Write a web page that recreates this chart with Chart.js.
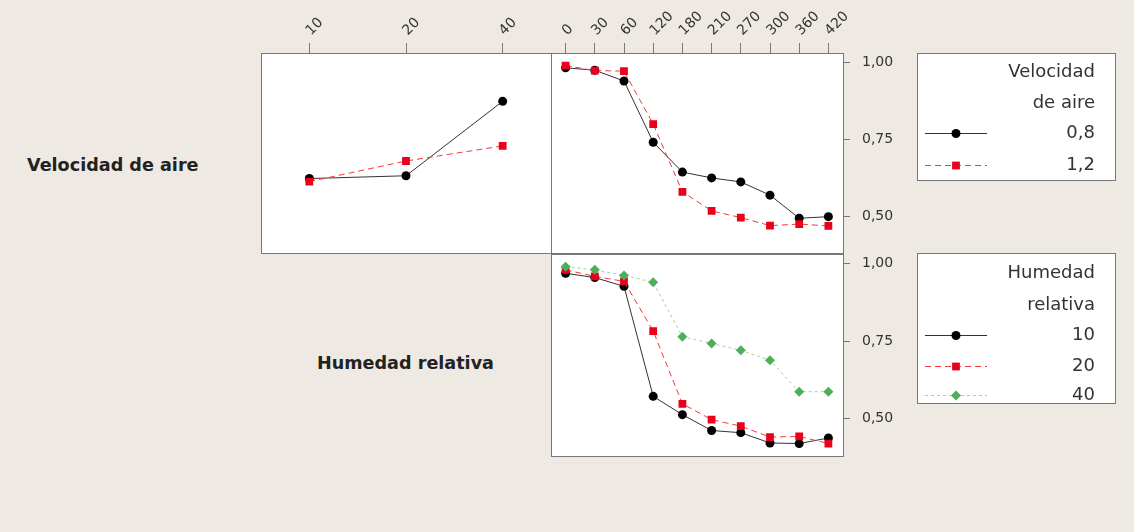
<!DOCTYPE html>
<html>
<head>
<meta charset="utf-8">
<script src="https://cdn.jsdelivr.net/npm/chart.js@4.4.1/dist/chart.umd.min.js"></script>
<style>
  body { margin:0; background:#efe9e3; width:1134px; height:532px; overflow:hidden; position:relative; font-family:'DejaVu Sans', sans-serif; }
  canvas.layer { position:absolute; left:0; top:0; }
  .rowlab { position:absolute; font-weight:bold; font-size:17.6px; color:#222; white-space:nowrap; line-height:20px; }
</style>
</head>
<body>
<div class="rowlab" style="left:27px; top:155px;">Velocidad de aire</div>
<div class="rowlab" style="left:317px; top:353px;">Humedad relativa</div>
<canvas class="layer" id="c1" width="1134" height="532"></canvas>
<canvas class="layer" id="c2" width="1134" height="532"></canvas>
<canvas class="layer" id="c3" width="1134" height="532"></canvas>
<script>
// factor levels
const humLevels = ['10', '20', '40'];
const velLevels = ['0,8', '1,2'];
const timeLabels = ['0', '30', '60', '120', '180', '210', '270', '300', '360', '420'];
const yTicks = [0.5, 0.75, 1.0];

// velocidad de aire vs humedad relativa
const velHum08 = [0.622, 0.631, 0.873];
const velHum12 = [0.612, 0.679, 0.728];

// velocidad de aire vs tiempo
const velTime08 = [0.982, 0.974, 0.939, 0.740, 0.643, 0.624, 0.611, 0.568, 0.493, 0.498];
const velTime12 = [0.989, 0.973, 0.971, 0.799, 0.579, 0.517, 0.495, 0.469, 0.474, 0.468];

// humedad relativa vs tiempo
const humTime10 = [0.968, 0.954, 0.926, 0.572, 0.513, 0.462, 0.455, 0.422, 0.420, 0.438];
const humTime20 = [0.979, 0.958, 0.942, 0.782, 0.548, 0.497, 0.476, 0.441, 0.443, 0.420];
const humTime40 = [0.989, 0.979, 0.961, 0.939, 0.764, 0.742, 0.720, 0.688, 0.587, 0.587];

const Y_MIN = 0.38, Y_MAX = 1.03;
const W = 1134, H = 532;
const tickFont = { family: 'DejaVu Sans', size: 14 };
const textCol = '#333';
const frameCol = '#777';

const styles = [
  { borderColor:'#333', backgroundColor:'#000', pointBackgroundColor:'#000', pointBorderColor:'#000', pointStyle:'circle', pointRadius:4.5, borderDash:[], order:3 },
  { borderColor:'#f03c3c', backgroundColor:'#e8001c', pointBackgroundColor:'#e8001c', pointBorderColor:'#e8001c', pointStyle:'rect', pointRadius:5.5, borderDash:[6,4], order:2 },
  { borderColor:'#9fd59f', backgroundColor:'#4fae5a', pointBackgroundColor:'#4fae5a', pointBorderColor:'#4fae5a', pointStyle:'rectRot', pointRadius:5, borderDash:[3,3], order:1 }
];

function ds(label, data, i) {
  return Object.assign({ label, data, borderWidth:1, pointBorderWidth:0, pointHoverRadius:0, tension:0 }, styles[i]);
}

// white plot panel with a grey frame
const panelPlugin = {
  id: 'panel',
  beforeDraw(chart) {
    const a = chart.chartArea, ctx = chart.ctx;
    ctx.save();
    ctx.fillStyle = '#fff';
    ctx.fillRect(a.left, a.top, a.right - a.left, a.bottom - a.top);
    ctx.restore();
  },
  afterDraw(chart) {
    const a = chart.chartArea, ctx = chart.ctx;
    ctx.save();
    ctx.strokeStyle = frameCol;
    ctx.lineWidth = 1;
    ctx.strokeRect(Math.round(a.left) + 0.5, Math.round(a.top) + 0.5, Math.round(a.right - a.left), Math.round(a.bottom - a.top));
    ctx.restore();
  }
};

// boxed legend like the original, built from the datasets
const boxLegendPlugin = {
  id: 'boxLegend',
  afterDraw(chart, args, opts) {
    if (!opts || !opts.title) return;
    const ctx = chart.ctx;
    ctx.save();
    ctx.fillStyle = '#fff';
    ctx.fillRect(opts.x, opts.y, opts.w, opts.h);
    ctx.strokeStyle = frameCol;
    ctx.lineWidth = 1;
    ctx.strokeRect(opts.x + 0.5, opts.y + 0.5, opts.w, opts.h);
    ctx.fillStyle = textCol;
    ctx.font = '18px "DejaVu Sans"';
    ctx.textAlign = 'right';
    ctx.textBaseline = 'middle';
    const tx = opts.x + opts.w - 20;
    opts.title.forEach((t, i) => ctx.fillText(t, tx, opts.titleY[i]));
    chart.data.datasets.forEach((d, i) => {
      const y = opts.rowY[i];
      ctx.fillStyle = textCol;
      ctx.fillText(d.label, tx, y);
      ctx.strokeStyle = d.borderColor;
      ctx.setLineDash(d.borderDash);
      ctx.beginPath();
      ctx.moveTo(opts.x + 8, y + 0.5);
      ctx.lineTo(opts.x + 70, y + 0.5);
      ctx.stroke();
      ctx.setLineDash([]);
      ctx.fillStyle = d.pointBackgroundColor;
      ctx.strokeStyle = d.pointBorderColor;
      Chart.helpers.drawPoint(ctx, { pointStyle: d.pointStyle, radius: d.pointRadius, rotation: 0, borderWidth: 0 }, opts.x + 39, y + 0.5);
    });
    ctx.restore();
  }
};

function xTop(show) {
  const x = {
    type: 'category', position: 'top', offset: true, display: show,
    grid: { drawOnChartArea: false, drawTicks: true, tickLength: 10, color: frameCol },
    border: { display: false },
    ticks: { minRotation: 45, maxRotation: 45, autoSkip: false, font: tickFont, color: textCol, padding: 4, labelOffset: 11 }
  };
  if (show) x.afterFit = s => { s.height = 45; };
  return x;
}

function yRight() {
  return {
    position: 'right', min: Y_MIN, max: Y_MAX,
    grid: { drawOnChartArea: false, drawTicks: true, tickLength: 7, color: frameCol },
    border: { display: true, color: frameCol },
    ticks: { font: tickFont, color: textCol, padding: 12, callback: v => v.toFixed(2).replace('.', ',') },
    afterBuildTicks(s) { s.ticks = yTicks.map(v => ({ value: v })); },
    afterFit(s) { s.width = 50; }
  };
}

const common = {
  responsive: false, animation: false, devicePixelRatio: 1,
  events: [],
  plugins: { legend: { display: false }, tooltip: { enabled: false } }
};

// top-left: humedad relativa on x, lines by velocidad
new Chart(document.getElementById('c1'), {
  type: 'line',
  data: { labels: humLevels, datasets: [ds(velLevels[0], velHum08, 0), ds(velLevels[1], velHum12, 1)] },
  options: Object.assign({}, common, {
    layout: { padding: { left: 261, top: 53 - 45, right: W - 551, bottom: H - 253 } },
    scales: { x: xTop(true), y: { display: false, min: Y_MIN, max: Y_MAX } }
  }),
  plugins: [panelPlugin]
});

// top-right: tiempo on x, lines by velocidad
new Chart(document.getElementById('c2'), {
  type: 'line',
  data: { labels: timeLabels, datasets: [ds(velLevels[0], velTime08, 0), ds(velLevels[1], velTime12, 1)] },
  options: Object.assign({}, common, {
    layout: { padding: { left: 551, top: 53 - 45, right: W - 843 - 50, bottom: H - 253 } },
    scales: { x: xTop(true), y: yRight() },
    plugins: Object.assign({}, common.plugins, {
      boxLegend: { x: 917, y: 53, w: 198, h: 127, title: ['Velocidad', 'de aire'], titleY: [72, 103], rowY: [133, 165] }
    })
  }),
  plugins: [panelPlugin, boxLegendPlugin]
});

// bottom-right: tiempo on x, lines by humedad relativa
new Chart(document.getElementById('c3'), {
  type: 'line',
  data: { labels: timeLabels, datasets: [ds(humLevels[0], humTime10, 0), ds(humLevels[1], humTime20, 1), ds(humLevels[2], humTime40, 2)] },
  options: Object.assign({}, common, {
    layout: { padding: { left: 551, top: 254, right: W - 843 - 50, bottom: H - 456 } },
    scales: { x: xTop(false), y: yRight() },
    plugins: Object.assign({}, common.plugins, {
      boxLegend: { x: 917, y: 253, w: 198, h: 150, title: ['Humedad', 'relativa'], titleY: [273, 305], rowY: [335, 366, 395] }
    })
  }),
  plugins: [panelPlugin, boxLegendPlugin]
});
</script>
</body>
</html>
